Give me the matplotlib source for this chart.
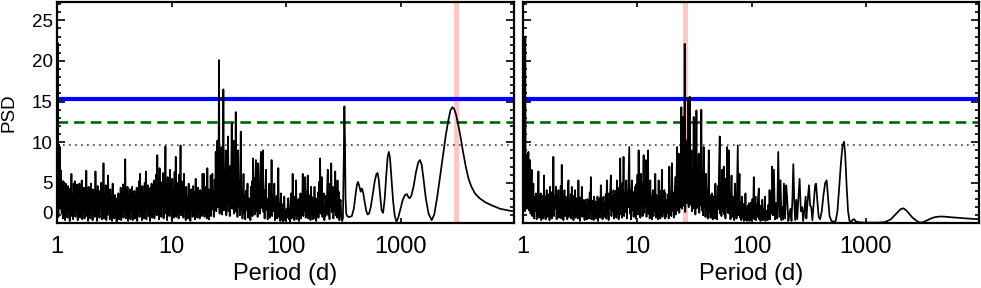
import matplotlib
matplotlib.use('Agg')
import matplotlib.pyplot as plt
import numpy as np
from matplotlib.ticker import FixedLocator, MultipleLocator, NullLocator

plt.rcParams['font.family'] = ['Liberation Sans', 'DejaVu Sans']

# periodogram: log10(period / d) and PSD
left_logp = [
    0.000, 0.004, 0.008, 0.012, 0.016, 0.021, 0.026, 0.031, 0.036, 0.041,
    0.046, 0.051, 0.056, 0.061, 0.066, 0.071, 0.076, 0.081, 0.086, 0.091,
    0.096, 0.101, 0.106, 0.111, 0.116, 0.121, 0.126, 0.131, 0.136, 0.141,
    0.146, 0.151, 0.156, 0.161, 0.166, 0.171, 0.176, 0.181, 0.186, 0.191,
    0.196, 0.201, 0.206, 0.211, 0.216, 0.221, 0.226, 0.231, 0.236, 0.241,
    0.246, 0.251, 0.256, 0.261, 0.266, 0.271, 0.276, 0.281, 0.286, 0.291,
    0.296, 0.301, 0.306, 0.311, 0.316, 0.321, 0.326, 0.331, 0.336, 0.341,
    0.346, 0.351, 0.356, 0.361, 0.366, 0.371, 0.376, 0.381, 0.386, 0.391,
    0.396, 0.401, 0.406, 0.411, 0.416, 0.421, 0.426, 0.431, 0.436, 0.441,
    0.446, 0.451, 0.456, 0.461, 0.466, 0.471, 0.476, 0.481, 0.486, 0.491,
    0.496, 0.501, 0.506, 0.511, 0.516, 0.521, 0.526, 0.531, 0.536, 0.541,
    0.546, 0.551, 0.556, 0.561, 0.566, 0.571, 0.576, 0.581, 0.586, 0.591,
    0.596, 0.601, 0.606, 0.611, 0.616, 0.621, 0.626, 0.631, 0.636, 0.641,
    0.646, 0.651, 0.656, 0.661, 0.666, 0.671, 0.676, 0.681, 0.686, 0.691,
    0.696, 0.701, 0.706, 0.711, 0.716, 0.721, 0.726, 0.731, 0.736, 0.741,
    0.746, 0.751, 0.756, 0.761, 0.766, 0.771, 0.776, 0.781, 0.786, 0.791,
    0.796, 0.801, 0.806, 0.811, 0.816, 0.821, 0.826, 0.831, 0.836, 0.841,
    0.846, 0.851, 0.856, 0.861, 0.866, 0.871, 0.876, 0.881, 0.886, 0.891,
    0.896, 0.901, 0.906, 0.911, 0.916, 0.921, 0.926, 0.931, 0.936, 0.941,
    0.947, 0.952, 0.957, 0.962, 0.967, 0.972, 0.977, 0.982, 0.987, 0.992,
    0.997, 1.002, 1.007, 1.012, 1.017, 1.022, 1.027, 1.032, 1.037, 1.042,
    1.047, 1.052, 1.057, 1.062, 1.067, 1.072, 1.079, 1.084, 1.089, 1.094,
    1.099, 1.104, 1.109, 1.114, 1.119, 1.124, 1.129, 1.134, 1.139, 1.144,
    1.150, 1.155, 1.160, 1.165, 1.170, 1.175, 1.180, 1.185, 1.190, 1.195,
    1.200, 1.205, 1.211, 1.216, 1.221, 1.226, 1.231, 1.236, 1.241, 1.246,
    1.251, 1.256, 1.261, 1.266, 1.271, 1.276, 1.283, 1.288, 1.293, 1.298,
    1.303, 1.308, 1.313, 1.318, 1.323, 1.328, 1.333, 1.338, 1.342, 1.347,
    1.352, 1.357, 1.362, 1.367, 1.372, 1.377, 1.382, 1.386, 1.391, 1.396,
    1.401, 1.405, 1.410, 1.415, 1.420, 1.425, 1.430, 1.436, 1.441, 1.446,
    1.450, 1.453, 1.457, 1.462, 1.467, 1.474, 1.479, 1.484, 1.489, 1.494,
    1.499, 1.504, 1.509, 1.514, 1.519, 1.526, 1.531, 1.536, 1.541, 1.546,
    1.551, 1.556, 1.561, 1.566, 1.571, 1.576, 1.582, 1.587, 1.592, 1.597,
    1.605, 1.610, 1.615, 1.620, 1.625, 1.629, 1.634, 1.639, 1.644, 1.649,
    1.654, 1.659, 1.664, 1.669, 1.674, 1.679, 1.684, 1.689, 1.693, 1.698,
    1.703, 1.708, 1.713, 1.718, 1.723, 1.728, 1.733, 1.737, 1.742, 1.747,
    1.752, 1.757, 1.762, 1.767, 1.772, 1.776, 1.781, 1.786, 1.791, 1.798,
    1.803, 1.808, 1.813, 1.818, 1.825, 1.830, 1.835, 1.840, 1.845, 1.849,
    1.854, 1.859, 1.864, 1.869, 1.874, 1.879, 1.884, 1.889, 1.893, 1.898,
    1.903, 1.908, 1.913, 1.918, 1.923, 1.928, 1.933, 1.938, 1.943, 1.948,
    1.952, 1.956, 1.961, 1.966, 1.971, 1.976, 1.980, 1.985, 1.990, 1.995,
    2.000, 2.005, 2.010, 2.015, 2.020, 2.025, 2.030, 2.035, 2.040, 2.044,
    2.049, 2.054, 2.058, 2.063, 2.068, 2.073, 2.078, 2.083, 2.088, 2.093,
    2.098, 2.103, 2.108, 2.113, 2.118, 2.122, 2.126, 2.131, 2.136, 2.141,
    2.146, 2.151, 2.156, 2.161, 2.167, 2.172, 2.177, 2.182, 2.190, 2.195,
    2.200, 2.205, 2.210, 2.214, 2.219, 2.224, 2.229, 2.234, 2.239, 2.244,
    2.249, 2.254, 2.259, 2.264, 2.269, 2.274, 2.279, 2.284, 2.289, 2.294,
    2.298, 2.303, 2.308, 2.313, 2.318, 2.323, 2.330, 2.335, 2.340, 2.345,
    2.350, 2.355, 2.360, 2.365, 2.370, 2.375, 2.380, 2.385, 2.390, 2.395,
    2.400, 2.405, 2.409, 2.414, 2.419, 2.424, 2.430, 2.435, 2.440, 2.445,
    2.450, 2.455, 2.460, 2.465, 2.470, 2.477, 2.484, 2.490, 2.497, 2.504,
    2.510, 2.515, 2.520, 2.526, 2.535, 2.545, 2.556, 2.575, 2.592, 2.610,
    2.620, 2.629, 2.640, 2.652, 2.662, 2.672, 2.685, 2.700, 2.712, 2.725,
    2.740, 2.758, 2.775, 2.790, 2.800, 2.810, 2.822, 2.835, 2.848, 2.862,
    2.876, 2.888, 2.898, 2.908, 2.920, 2.935, 2.950, 2.965, 2.980, 3.000,
    3.020, 3.040, 3.056, 3.070, 3.080, 3.095, 3.115, 3.135, 3.155, 3.170,
    3.185, 3.200, 3.220, 3.245, 3.272, 3.295, 3.320, 3.345, 3.370, 3.395,
    3.418, 3.436, 3.453, 3.468, 3.485, 3.505, 3.525, 3.545, 3.570, 3.594,
    3.620, 3.650, 3.690, 3.740, 3.800, 3.870, 3.940, 4.000,
]
left_psd = [
    9.3, 1.0, 22.2, 0.8, 9.7, 2.5, 9.4, 1.8, 6.5, 1.2,
    4.8, 0.6, 5.2, 1.5, 4.4, 0.4, 4.9, 1.8, 3.9, 0.7,
    4.6, 2.0, 3.2, 0.3, 4.3, 1.1, 6.1, 0.9, 3.6, 0.5,
    4.9, 1.6, 5.2, 0.8, 3.9, 1.9, 4.8, 0.4, 3.4, 1.3,
    4.9, 0.7, 4.1, 2.1, 5.3, 0.5, 3.1, 1.4, 4.4, 0.6,
    3.7, 1.8, 6.5, 0.9, 3.3, 0.3, 4.5, 1.7, 3.8, 0.6,
    4.9, 1.2, 3.0, 0.4, 4.2, 2.0, 3.5, 0.8, 6.4, 1.1,
    3.9, 0.3, 4.6, 1.5, 3.2, 0.7, 4.0, 1.9, 5.0, 0.5,
    3.6, 1.3, 7.4, 0.6, 3.4, 1.8, 4.7, 0.4, 3.1, 1.0,
    5.9, 1.6, 3.7, 0.5, 4.2, 1.2, 3.3, 0.3, 4.9, 1.4,
    2.8, 0.6, 3.5, 1.1, 2.5, 0.2, 3.1, 1.3, 3.7, 0.5,
    2.9, 1.6, 4.4, 0.4, 3.3, 1.0, 4.8, 0.7, 3.9, 1.8,
    7.9, 0.6, 3.6, 1.2, 4.5, 0.3, 3.4, 1.5, 4.2, 0.5,
    3.0, 1.9, 4.5, 0.4, 2.8, 1.1, 4.0, 0.6, 3.3, 1.4,
    4.4, 0.3, 3.6, 1.7, 5.2, 0.8, 6.1, 1.3, 3.8, 0.4,
    4.6, 1.6, 3.5, 0.6, 5.0, 1.4, 6.4, 0.5, 3.7, 1.8,
    4.7, 0.9, 3.2, 0.3, 4.4, 1.5, 4.9, 0.7, 3.6, 2.0,
    5.3, 0.6, 4.1, 1.7, 6.0, 1.0, 8.4, 1.9, 4.8, 0.5,
    6.8, 1.6, 5.1, 0.8, 4.3, 2.1, 6.2, 0.6, 5.0, 1.4,
    9.5, 1.2, 4.6, 0.4, 5.7, 1.9, 4.2, 0.9, 6.6, 1.5,
    4.9, 0.5, 5.5, 2.0, 4.0, 0.7, 6.3, 1.6, 8.2, 0.8,
    5.0, 1.9, 4.4, 0.6, 6.0, 1.3, 9.6, 1.0, 5.2, 2.2,
    4.1, 0.7, 6.1, 1.5, 3.6, 0.4, 4.5, 1.7, 3.2, 0.6,
    4.9, 1.4, 3.5, 0.3, 4.2, 1.8, 2.9, 0.8, 4.6, 1.3,
    3.8, 0.5, 5.5, 1.9, 3.4, 0.7, 4.4, 1.5, 3.1, 0.6,
    4.1, 1.6, 3.7, 0.9, 6.1, 1.2, 6.1, 0.8, 4.5, 2.0,
    3.6, 0.6, 6.8, 1.4, 4.2, 0.5, 3.9, 1.8, 5.9, 0.9,
    4.3, 6.1, 1.7, 3.8, 0.8, 5.4, 2.2, 8.8, 1.5, 6.3,
    10.2, 2.0, 5.5, 20.1, 1.2, 7.0, 2.5, 9.4, 1.1, 5.8,
    2.3, 16.5, 1.6, 6.4, 2.7, 9.0, 1.0, 6.2, 2.4, 10.7,
    1.5, 5.0, 0.9, 7.1, 2.6, 12.3, 1.8, 4.6, 10.2, 1.2,
    5.5, 2.9, 13.7, 1.4, 6.0, 0.8, 9.0, 2.1, 5.1, 1.0,
    11.3, 1.7, 4.2, 0.6, 3.6, 6.1, 1.3, 3.4, 0.5, 4.0,
    1.6, 2.8, 4.9, 0.7, 3.1, 1.4, 2.6, 0.4, 4.5, 1.8,
    5.2, 0.9, 8.0, 2.0, 5.6, 1.1, 4.4, 7.8, 1.5, 5.0,
    0.8, 7.4, 2.3, 4.7, 1.2, 6.5, 8.8, 1.9, 5.3, 9.0,
    1.4, 4.1, 0.6, 3.5, 6.6, 1.7, 3.0, 0.5, 2.7, 1.3,
    4.9, 0.7, 3.2, 1.8, 7.8, 0.9, 3.6, 1.5, 2.9, 4.9,
    0.4, 2.6, 1.2, 3.4, 0.6, 2.2, 6.8, 0.8, 2.5, 0.3,
    1.9, 3.7, 0.5, 1.6, 0.2, 2.4, 0.6, 3.3, 0.4, 1.5,
    0.3, 1.8, 0.7, 2.3, 3.1, 0.5, 1.4, 0.2, 2.6, 3.7,
    0.6, 2.0, 6.1, 0.8, 2.7, 0.4, 3.3, 1.1, 5.3, 0.5,
    2.4, 0.9, 3.0, 0.3, 2.2, 0.7, 3.7, 0.6, 2.8, 1.2,
    6.1, 0.9, 4.0, 1.5, 5.7, 0.7, 3.9, 1.3, 5.9, 0.6,
    3.5, 1.0, 2.8, 0.4, 4.5, 1.1, 3.2, 0.5, 2.6, 1.4,
    4.5, 0.6, 3.1, 0.3, 2.5, 1.0, 3.8, 0.7, 5.1, 1.6,
    8.0, 1.2, 4.0, 5.7, 0.8, 2.6, 3.7, 0.4, 2.1, 0.9,
    3.4, 1.3, 4.6, 6.6, 1.0, 3.7, 0.5, 4.9, 2.0, 7.4,
    1.4, 3.2, 4.5, 0.6, 2.9, 1.5, 6.4, 1.0, 3.6, 0.7,
    5.3, 1.8, 3.9, 0.4, 2.4, 2.9, 0.5, 0.3, 0.6, 7.5,
    14.4, 10.0, 3.0, 1.2, 0.9, 0.8, 0.8, 0.9, 1.8, 3.8,
    4.8, 5.1, 4.6, 3.9, 4.3, 3.9, 2.8, 1.6, 1.1, 1.2,
    2.0, 3.6, 5.2, 6.1, 6.2, 5.4, 3.5, 1.6, 1.3, 3.0,
    6.0, 8.2, 8.8, 8.1, 5.8, 2.8, 0.9, 0.2, 0.7, 1.8,
    2.9, 3.5, 3.6, 3.2, 3.1, 3.4, 4.6, 6.3, 7.5, 7.8,
    7.2, 5.6, 3.2, 1.2, 0.4, 1.1, 3.2, 5.7, 8.3, 10.8,
    12.7, 13.9, 14.3, 14.1, 13.4, 12.1, 10.6, 8.9, 7.0, 5.5,
    4.5, 3.7, 3.1, 2.6, 2.2, 1.8, 1.6, 1.45,
]

right_logp = [
    0.000, 0.006, 0.012, 0.016, 0.020, 0.024, 0.028, 0.033, 0.038, 0.043,
    0.047, 0.052, 0.057, 0.061, 0.066, 0.071, 0.076, 0.081, 0.086, 0.091,
    0.096, 0.101, 0.106, 0.110, 0.114, 0.119, 0.124, 0.129, 0.135, 0.140,
    0.145, 0.150, 0.155, 0.160, 0.165, 0.170, 0.175, 0.179, 0.184, 0.189,
    0.194, 0.199, 0.204, 0.208, 0.213, 0.218, 0.223, 0.228, 0.232, 0.237,
    0.242, 0.247, 0.252, 0.257, 0.261, 0.266, 0.271, 0.276, 0.280, 0.285,
    0.289, 0.294, 0.299, 0.304, 0.310, 0.315, 0.320, 0.325, 0.330, 0.335,
    0.339, 0.344, 0.349, 0.354, 0.358, 0.363, 0.368, 0.373, 0.378, 0.383,
    0.388, 0.393, 0.398, 0.403, 0.408, 0.413, 0.418, 0.422, 0.427, 0.432,
    0.437, 0.442, 0.447, 0.452, 0.456, 0.461, 0.466, 0.471, 0.476, 0.480,
    0.485, 0.490, 0.495, 0.500, 0.505, 0.510, 0.515, 0.520, 0.525, 0.530,
    0.535, 0.539, 0.544, 0.549, 0.554, 0.559, 0.564, 0.569, 0.574, 0.579,
    0.584, 0.589, 0.594, 0.599, 0.604, 0.609, 0.614, 0.618, 0.623, 0.628,
    0.633, 0.638, 0.643, 0.648, 0.652, 0.657, 0.662, 0.667, 0.672, 0.676,
    0.681, 0.686, 0.691, 0.696, 0.701, 0.705, 0.710, 0.715, 0.720, 0.725,
    0.729, 0.734, 0.739, 0.744, 0.749, 0.754, 0.759, 0.764, 0.769, 0.774,
    0.779, 0.784, 0.788, 0.792, 0.797, 0.802, 0.807, 0.812, 0.817, 0.822,
    0.827, 0.832, 0.837, 0.842, 0.846, 0.851, 0.856, 0.861, 0.866, 0.871,
    0.875, 0.880, 0.885, 0.890, 0.895, 0.900, 0.904, 0.909, 0.914, 0.919,
    0.924, 0.930, 0.935, 0.940, 0.945, 0.949, 0.953, 0.958, 0.963, 0.968,
    0.973, 0.978, 0.982, 0.987, 0.992, 0.997, 1.002, 1.007, 1.012, 1.017,
    1.022, 1.027, 1.032, 1.037, 1.042, 1.047, 1.052, 1.056, 1.061, 1.066,
    1.071, 1.076, 1.081, 1.086, 1.090, 1.094, 1.099, 1.104, 1.109, 1.114,
    1.119, 1.124, 1.128, 1.132, 1.137, 1.142, 1.147, 1.152, 1.158, 1.163,
    1.168, 1.173, 1.178, 1.182, 1.187, 1.192, 1.197, 1.202, 1.207, 1.211,
    1.216, 1.221, 1.226, 1.231, 1.237, 1.242, 1.246, 1.252, 1.258, 1.264,
    1.270, 1.275, 1.281, 1.287, 1.292, 1.298, 1.304, 1.310, 1.315, 1.320,
    1.326, 1.333, 1.338, 1.343, 1.348, 1.353, 1.358, 1.363, 1.368, 1.373,
    1.378, 1.386, 1.391, 1.396, 1.401, 1.406, 1.410, 1.415, 1.420, 1.425,
    1.430, 1.435, 1.440, 1.444, 1.450, 1.455, 1.459, 1.464, 1.469, 1.474,
    1.479, 1.484, 1.489, 1.494, 1.499, 1.504, 1.509, 1.514, 1.518, 1.523,
    1.528, 1.533, 1.538, 1.543, 1.548, 1.553, 1.561, 1.566, 1.571, 1.576,
    1.582, 1.587, 1.592, 1.597, 1.602, 1.607, 1.612, 1.617, 1.626, 1.631,
    1.636, 1.641, 1.646, 1.650, 1.655, 1.660, 1.665, 1.670, 1.675, 1.679,
    1.684, 1.689, 1.694, 1.699, 1.705, 1.710, 1.716, 1.722, 1.727, 1.732,
    1.737, 1.743, 1.748, 1.752, 1.757, 1.762, 1.767, 1.772, 1.777, 1.782,
    1.787, 1.792, 1.796, 1.801, 1.806, 1.811, 1.816, 1.820, 1.825, 1.830,
    1.835, 1.840, 1.845, 1.849, 1.854, 1.859, 1.864, 1.869, 1.875, 1.880,
    1.885, 1.890, 1.895, 1.900, 1.905, 1.910, 1.914, 1.918, 1.923, 1.928,
    1.933, 1.938, 1.942, 1.947, 1.952, 1.957, 1.962, 1.967, 1.972, 1.977,
    1.982, 1.987, 1.992, 1.998, 2.003, 2.008, 2.014, 2.020, 2.025, 2.030,
    2.035, 2.040, 2.046, 2.051, 2.057, 2.064, 2.069, 2.074, 2.079, 2.084,
    2.089, 2.094, 2.099, 2.104, 2.110, 2.117, 2.122, 2.127, 2.132, 2.137,
    2.142, 2.148, 2.153, 2.158, 2.163, 2.169, 2.175, 2.181, 2.188, 2.196,
    2.205, 2.215, 2.225, 2.234, 2.244, 2.254, 2.262, 2.270, 2.277, 2.284,
    2.294, 2.304, 2.313, 2.322, 2.332, 2.342, 2.350, 2.358, 2.366, 2.374,
    2.382, 2.392, 2.400, 2.410, 2.421, 2.432, 2.444, 2.452, 2.462, 2.474,
    2.480, 2.490, 2.503, 2.513, 2.523, 2.533, 2.545, 2.557, 2.565, 2.575,
    2.588, 2.600, 2.615, 2.630, 2.645, 2.658, 2.670, 2.683, 2.700, 2.720,
    2.737, 2.752, 2.768, 2.783, 2.797, 2.810, 2.820, 2.832, 2.845, 2.858,
    2.872, 2.890, 2.900, 2.912, 2.940, 2.980, 3.040, 3.100, 3.160, 3.190,
    3.220, 3.250, 3.278, 3.305, 3.330, 3.355, 3.380, 3.410, 3.439, 3.462,
    3.482, 3.510, 3.541, 3.570, 3.600, 3.630, 3.658, 3.700, 3.750, 3.804,
    3.870, 3.940, 4.003,
]
right_psd = [
    7.5, 2.0, 8.0, 1.5, 23.0, 2.0, 8.4, 1.8, 6.0, 2.4,
    8.8, 1.6, 5.4, 7.8, 1.2, 4.4, 6.6, 0.9, 3.5, 4.9,
    0.6, 3.2, 1.5, 3.0, 3.7, 0.5, 2.8, 1.4, 6.4, 0.7,
    3.1, 1.6, 3.7, 0.4, 2.9, 1.3, 3.4, 0.6, 5.9, 1.1,
    3.3, 0.5, 2.6, 4.1, 0.8, 3.0, 1.7, 3.6, 0.4, 4.5,
    1.2, 2.8, 0.6, 3.9, 1.5, 8.2, 0.9, 3.4, 1.8, 2.7,
    4.5, 0.5, 3.2, 1.3, 4.1, 0.7, 3.0, 1.6, 4.6, 0.6,
    7.2, 1.2, 3.5, 0.4, 2.6, 4.1, 0.9, 3.3, 1.5, 2.7,
    0.5, 4.0, 5.3, 0.8, 2.9, 1.4, 3.6, 0.6, 4.5, 1.7,
    2.8, 0.4, 3.4, 1.1, 4.1, 0.7, 3.1, 1.5, 2.5, 0.6,
    5.3, 1.0, 3.2, 0.3, 2.7, 1.4, 4.5, 0.8, 2.9, 1.6,
    2.2, 0.4, 2.9, 1.2, 2.4, 0.5, 3.0, 1.7, 2.6, 0.6,
    3.8, 1.3, 5.7, 0.5, 2.8, 1.5, 2.2, 0.4, 3.3, 1.1,
    2.7, 0.6, 2.4, 1.6, 3.3, 0.3, 2.5, 1.4, 3.1, 0.7,
    4.7, 1.2, 2.6, 0.5, 2.9, 3.3, 0.8, 2.4, 1.6, 3.6,
    0.6, 5.3, 1.3, 3.0, 0.4, 3.7, 1.8, 4.3, 5.9, 0.9,
    3.2, 1.5, 2.7, 4.1, 0.6, 3.5, 1.9, 4.0, 0.7, 5.3,
    1.4, 3.8, 0.5, 4.4, 2.0, 8.0, 1.1, 4.6, 0.7, 5.0,
    1.8, 8.2, 0.9, 3.6, 1.4, 4.2, 5.3, 0.6, 3.9, 2.0,
    5.5, 9.4, 1.2, 4.1, 0.5, 3.7, 5.3, 1.6, 3.3, 0.8,
    3.9, 1.5, 4.5, 0.6, 4.8, 1.9, 6.0, 1.1, 9.0, 1.4,
    4.4, 0.7, 6.1, 2.0, 4.9, 0.9, 5.8, 8.4, 1.3, 4.5,
    2.2, 7.8, 0.8, 4.0, 1.8, 9.0, 1.2, 4.2, 0.6, 5.3,
    1.7, 3.3, 0.5, 3.0, 4.1, 0.9, 3.8, 1.6, 6.1, 0.7,
    3.5, 1.4, 2.9, 0.5, 5.3, 1.2, 3.4, 0.6, 4.0, 1.9,
    6.6, 0.8, 3.1, 1.4, 4.1, 0.6, 3.7, 0.8, 2.9, 1.3,
    3.6, 0.6, 7.0, 1.4, 3.3, 0.9, 7.4, 1.5, 3.8, 0.7,
    2.9, 5.7, 1.1, 3.6, 9.4, 1.6, 4.2, 8.6, 1.3, 4.8,
    2.0, 14.3, 1.8, 5.5, 13.1, 2.2, 6.0, 22.1, 1.4, 6.6,
    10.2, 2.5, 5.3, 15.4, 2.0, 7.2, 15.6, 2.3, 5.8, 9.0,
    1.5, 6.1, 2.7, 13.1, 1.8, 5.6, 1.1, 7.5, 13.9, 1.9,
    5.2, 2.5, 8.6, 1.3, 4.9, 2.2, 14.0, 1.6, 5.7, 1.0,
    9.4, 2.0, 4.4, 0.8, 6.1, 1.7, 4.0, 0.6, 9.0, 1.4,
    3.5, 0.7, 2.8, 1.5, 3.7, 0.5, 2.9, 1.3, 3.4, 0.6,
    4.9, 1.2, 3.1, 0.5, 4.6, 1.8, 6.9, 10.7, 1.2, 4.0,
    0.9, 6.6, 1.5, 3.8, 7.0, 1.1, 4.2, 0.6, 5.5, 2.0,
    9.4, 1.3, 4.7, 9.0, 1.2, 3.9, 0.5, 3.1, 5.9, 0.8,
    3.3, 1.4, 2.7, 0.4, 4.9, 1.1, 3.6, 0.6, 5.8, 9.6,
    1.0, 3.4, 6.1, 0.7, 2.6, 0.4, 2.1, 3.3, 0.6, 2.4,
    0.3, 1.9, 0.7, 3.7, 0.4, 1.8, 0.3, 2.2, 0.5, 2.5,
    0.3, 1.4, 0.4, 2.6, 0.6, 3.0, 0.8, 5.7, 0.5, 2.0,
    3.3, 0.4, 2.4, 0.8, 3.1, 4.3, 0.5, 2.2, 0.3, 1.6,
    0.6, 2.9, 0.4, 1.7, 0.5, 3.3, 0.3, 1.2, 0.6, 1.6,
    0.4, 2.3, 0.7, 4.1, 0.5, 3.6, 1.2, 7.0, 1.0, 6.6,
    0.5, 2.5, 0.6, 8.8, 0.8, 5.3, 0.4, 2.0, 0.5, 4.9,
    0.6, 4.7, 2.9, 0.3, 1.0, 1.8, 0.3, 3.0, 7.3, 3.0,
    0.4, 2.9, 0.5, 3.0, 5.5, 1.5, 2.0, 0.3, 1.5, 3.3,
    0.6, 2.5, 4.7, 2.2, 2.0, 0.4, 2.5, 4.7, 4.9, 3.0,
    0.8, 0.5, 1.5, 3.5, 5.0, 5.3, 3.2, 0.9, 0.3, 0.2,
    0.3, 1.5, 4.5, 7.5, 9.6, 10.05, 8.5, 4.8, 1.5, 0.3,
    0.2, 0.5, 0.5, 0.25, 0.15, 0.1, 0.1, 0.1, 0.15, 0.3,
    0.5, 0.95, 1.36, 1.75, 1.86, 1.6, 1.2, 0.7, 0.4, 0.15,
    0.1, 0.2, 0.4, 0.6, 0.75, 0.82, 0.85, 0.82, 0.75, 0.7,
    0.62, 0.55, 0.5,
]

# false-alarm levels (0.1 %, 1 %, 10 %)
fap_levels = [15.25, 12.43, 9.64]
# highlighted periods (d)
band_periods = [3030.0, 26.4]

xtick_values = [1, 10, 100, 1000]
xtick_labels = ['1', '10', '100', '1000']
ytick_values = [0, 5, 10, 15, 20, 25]

fig = plt.figure(figsize=(9.81, 2.88), dpi=100)
ax_left = fig.add_axes([57 / 981, 64.6 / 288, 457 / 981, 221 / 288])
ax_right = fig.add_axes([523 / 981, 64.6 / 288, 456 / 981, 221 / 288])

panels = [
    (ax_left, left_logp, left_psd, band_periods[0]),
    (ax_right, right_logp, right_psd, band_periods[1]),
]

for ax, logp, psd, band in panels:
    ax.axvline(band, color='#ffc6c9', lw=3.7, zorder=1)
    ax.axhline(fap_levels[0], color='#0000ff', lw=3.0, zorder=2)
    ax.axhline(fap_levels[1], color='#006400', lw=1.9, ls=(0, (4, 2.3)), zorder=2)
    ax.axhline(fap_levels[2], color='#8b2323', lw=1.2, ls=(0, (1, 2.6)), zorder=2)
    ax.plot(10 ** np.array(logp), psd, color='black', lw=1.25, zorder=3)

    ax.set_xscale('log')
    ax.set_xlim(1, 9800)
    ax.set_ylim(0, 27.2)
    ax.xaxis.set_major_locator(FixedLocator(xtick_values))
    ax.xaxis.set_minor_locator(NullLocator())
    ax.set_xticklabels(xtick_labels)
    ax.set_yticks(ytick_values)
    ax.yaxis.set_minor_locator(MultipleLocator(1))

    ax.tick_params(which='both', direction='in', top=True, right=True, width=1.2)
    ax.tick_params(axis='y', which='major', length=5.5, labelsize=13.5, pad=3)
    ax.tick_params(axis='y', which='minor', length=3)
    ax.tick_params(axis='x', which='major', length=3.5, labelsize=17, pad=9)
    ax.set_xlabel('Period (d)', fontsize=17, labelpad=4)
    for spine in ax.spines.values():
        spine.set_linewidth(1.6)

ax_left.set_ylabel('PSD', fontsize=13.5, labelpad=10)
ax_left.get_yticklabels()[0].set_verticalalignment('bottom')
ax_right.tick_params(axis='y', labelleft=False)

fig.savefig('out.png', dpi=100)
